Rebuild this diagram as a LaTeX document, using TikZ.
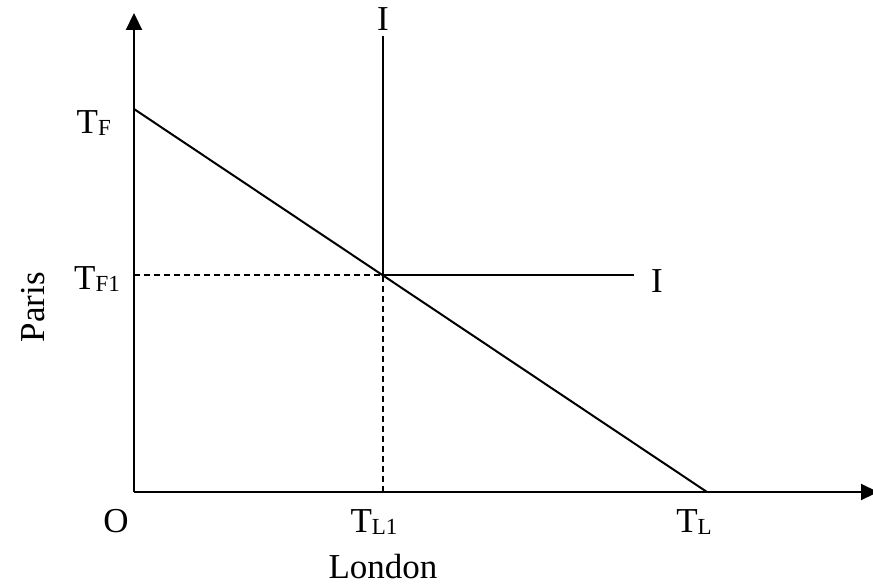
\documentclass[tikz,border=0pt]{standalone}
\usepackage{fontspec}
\setmainfont{Liberation Serif}
\usetikzlibrary{arrows.meta}
\newcommand{\sbs}[1]{\raisebox{-2pt}{\fontsize{23}{23}\selectfont #1}}
\begin{document}
\begin{tikzpicture}[x=1pt,y=-1pt,
  axis/.style={line width=2.2pt,-{Triangle[length=17pt,width=16pt]}},
  curve/.style={line width=2pt},
  guide/.style={line width=2pt,dash pattern=on 6pt off 4pt},
  lab/.style={font=\fontsize{35}{35}\selectfont,inner sep=0pt}]
\useasboundingbox (0,0) rectangle (873,586);
\coordinate (O) at (134,492);
\coordinate (ytop) at (134,13);
\coordinate (xend) at (878,492);
\coordinate (TF) at (134,109);
\coordinate (TL) at (707,492);
\coordinate (P) at (383,275);
\coordinate (Itop) at (383,36);
\coordinate (Iright) at (634,275);
\coordinate (TLone) at (383,492);
\coordinate (TFone) at (134,275);
\draw[axis] (O) -- (ytop);
\draw[axis] (O) -- (xend);
\draw[curve] (TF) -- (TL);
\draw[curve] (Itop) -- (P) -- (Iright);
\draw[guide] (TFone) -- (P) -- (TLone);
\node[lab] (lIt) at (383,19) {I};
\node[lab] (lIr) at (657,281) {I};
\node[lab,anchor=base east] (lTF) at (111,133) {T\sbs{F}};
\node[lab,anchor=base east] (lTFone) at (120,289) {T\sbs{F1}};
\node[lab,anchor=base] (lO) at (116,532) {O};
\node[lab,anchor=base] (lTLone) at (374,532) {T\sbs{L1}};
\node[lab,anchor=base] (lTL) at (694,532) {T\sbs{L}};
\node[lab,anchor=base] (lLondon) at (383,578) {London};
\node[lab,rotate=90] (lParis) at (33,307) {Paris};
\end{tikzpicture}
\end{document}
